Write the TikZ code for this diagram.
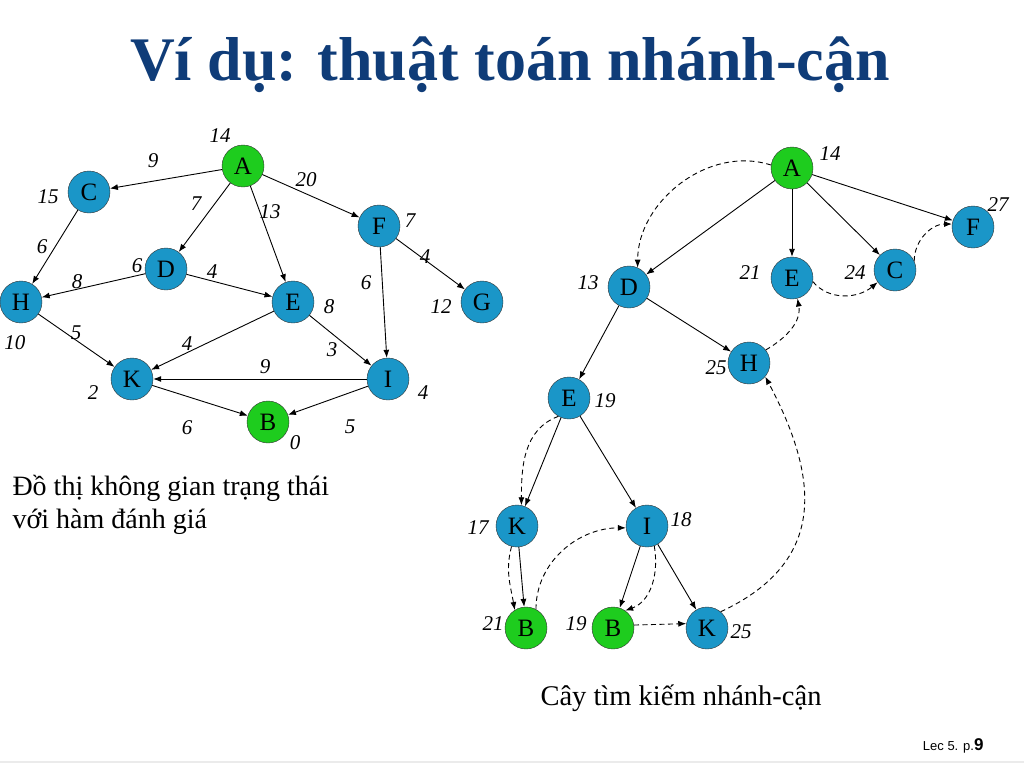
\documentclass[tikz,border=0pt]{standalone}
\usepackage{fontspec}
\setmainfont{Liberation Serif}
\setsansfont{Liberation Sans}
\usetikzlibrary{arrows.meta}
\definecolor{titleblue}{HTML}{0F3C78}
\definecolor{nodeblue}{HTML}{1A96C8}
\definecolor{nodegreen}{HTML}{1ECC1E}

\begin{document}
\begin{tikzpicture}[x=1pt, y=-1pt,
    bnode/.style={circle, draw=black!80, fill=nodeblue, minimum size=42pt, inner sep=0pt, font=\fontsize{25}{25}\selectfont},
    gnode/.style={bnode, fill=nodegreen},
    cost/.style={font=\fontsize{21}{21}\selectfont\itshape},
    edge/.style={-{Latex[length=8pt,width=6pt]}, line width=0.9pt},
    search/.style={edge, dash pattern=on 5pt off 3.5pt}]
    \useasboundingbox (0,0) rectangle (1024,768);

    % Title and footer
    \node[anchor=base, text=titleblue, font=\fontsize{62}{62}\selectfont\bfseries] (title) at (510,80) {Ví dụ: thuật toán nhánh-cận};
    \draw[black!8, line width=1.5pt] (0,762) -- (1024,762);
    \node[anchor=base east, font=\sffamily\fontsize{13}{13}\selectfont] (footer) at (987,750) {Lec 5. p.{\fontsize{17}{17}\selectfont\bfseries 9}};

    % State graph (left)
    \foreach \x/\y/\name in {89/192/C, 166/269/D, 21/302/H, 293/302/E, 379/226/F, 482/302/G, 132/379/K, 388/379/I} {
        \node[bnode] (l\name) at (\x,\y) {\name};
    }
    \node[gnode] (lA) at (243,166) {A};
    \node[gnode] (lB) at (268,422) {B};

    \foreach \a/\b in {A/C, A/D, A/E, A/F, C/H, D/H, D/E, H/K, E/K, E/I, F/G, F/I, I/K, K/B, I/B} {
        \draw[edge] (l\a) -- (l\b);
    }

    % Costs and weights (left)
    \foreach \x/\y/\t [count=\i] in {220/136/14, 153/161/9, 306/180/20, 48/197/15, 196/204/7, 270/212/13, 410/221/7,
        42/247/6, 137/266/6, 212/272/4, 425/257/4, 366/283/6, 77/282/8, 329/307/8, 441/307/12, 15/343/10,
        76/333/5, 187/344/4, 332/350/3, 265/367/9, 93/393/2, 423/393/4, 187/428/6, 350/427/5, 295/443/0} {
        \node[cost] (cl\i) at (\x,\y) {\t};
    }

    \node[anchor=base west, font=\fontsize{28}{28}\selectfont] (cap1) at (9,495) {Đồ thị không gian trạng thái};
    \node[anchor=base west, font=\fontsize{28}{28}\selectfont] (cap2) at (9,528) {với hàm đánh giá};

    % Search tree (right)
    \foreach \x/\y/\id/\txt in {973/227/F/F, 895/270/C/C, 792/278/E/E, 629/287/D/D, 749/363/H/H,
        569/398/E2/E, 517/526/K/K, 647/526/I/I, 707/628/K2/K} {
        \node[bnode] (r\id) at (\x,\y) {\txt};
    }
    \foreach \x/\y/\id/\txt in {792/168/A/A, 526/628/B1/B, 613/628/B2/B} {
        \node[gnode] (r\id) at (\x,\y) {\txt};
    }

    \foreach \a/\b in {A/D, A/E, A/C, A/F, D/E2, D/H, E2/K, E2/I, K/B1, I/B2, I/K2} {
        \draw[edge] (r\a) -- (r\b);
    }

    % Search order
    \draw[search] (rA.172) to[out=162, in=90] (rD.66);
    \draw[search] (rE2.240) to[out=200, in=90] (rK.78);
    \draw[search] (rK.255) to[out=255, in=100] (rB1.122);
    \draw[search] (rB1.62) to[out=90, in=180] (rI.185);
    \draw[search] (rI.-70) to[out=-80, in=20] (rB2.55);
    \draw[search] (rB2.8) -- (rK2.168);
    \draw[search] (rK2.50) to[out=25, in=-62, looseness=1.25] (rH.-40);
    \draw[search] (rH.38) to[out=30, in=-80] (rE.-75);
    \draw[search] (rE.-10) to[out=-50, in=-140] (rC.-145);
    \draw[search] (rC.25) to[out=90, in=180] (rF.172);

    % Costs (right)
    \foreach \x/\y/\t [count=\i] in {830/154/14, 998/205/27, 750/273/21, 855/273/24, 588/283/13, 716/368/25,
        605/401/19, 478/528/17, 681/520/18, 493/624/21, 576/624/19, 741/632/25} {
        \node[cost] (cr\i) at (\x,\y) {\t};
    }

    \node[anchor=base, font=\fontsize{28.5}{28.5}\selectfont] (cap3) at (681,705) {Cây tìm kiếm nhánh-cận};

\end{tikzpicture}
\end{document}
